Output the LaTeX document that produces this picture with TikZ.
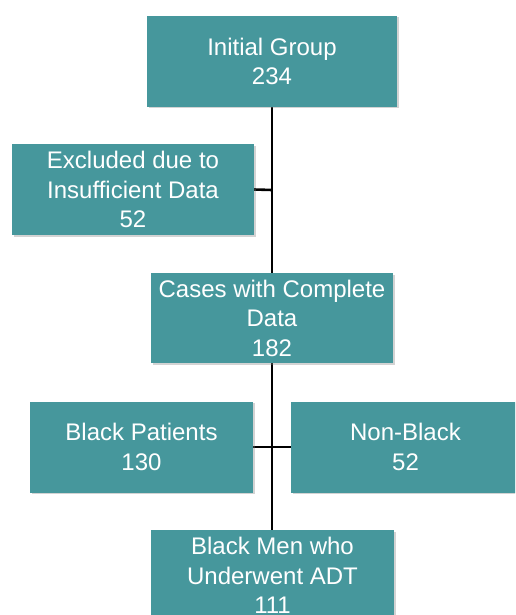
\documentclass[tikz,border=0pt]{standalone}
\usepackage{fontspec}
\setmainfont{Liberation Sans}
\usetikzlibrary{shadows,backgrounds}
\definecolor{teal}{HTML}{46979C}
\begin{document}
\begin{tikzpicture}[x=1pt,y=-1pt,
  box/.style={rectangle, fill=teal, draw=none, text=white, align=center,
    inner sep=0pt, font=\fontsize{24}{29.5}\selectfont,
    drop shadow={shadow xshift=1.5pt, shadow yshift=-1.5pt, opacity=0.35, fill=gray}},
  link/.style={line width=2.6pt, black}]
\useasboundingbox (0,0) rectangle (515,615);
\clip (0,0) rectangle (515,615);
\node[box, minimum width=250pt, minimum height=91pt] (init) at (272,61.5) {Initial Group\\234};
\node[box, minimum width=242pt, minimum height=91pt] (excl) at (133,189.5) {Excluded due to\\Insufficient Data\\52};
\node[box, minimum width=242pt, minimum height=90pt] (cases) at (272,318) {Cases with Complete\\Data\\182};
\node[box, minimum width=223pt, minimum height=91pt] (black) at (141.5,447) {Black Patients\\130};
\node[box, minimum width=229pt, minimum height=91pt] (nonblack) at (405.5,447) {Non-Black\\52};
\node[box, minimum width=243pt, minimum height=91pt, anchor=north] (men) at (272.5,530) {Black Men who\\Underwent ADT\\111};
\coordinate (j1) at (272,190);
\begin{scope}[on background layer]
\draw[link] (init.south -| j1) -- (men.north -| j1);
\draw[link] (excl.east) -- (j1);
\draw[link] (black.east) -- (nonblack.west);
\end{scope}
\end{tikzpicture}
\end{document}
